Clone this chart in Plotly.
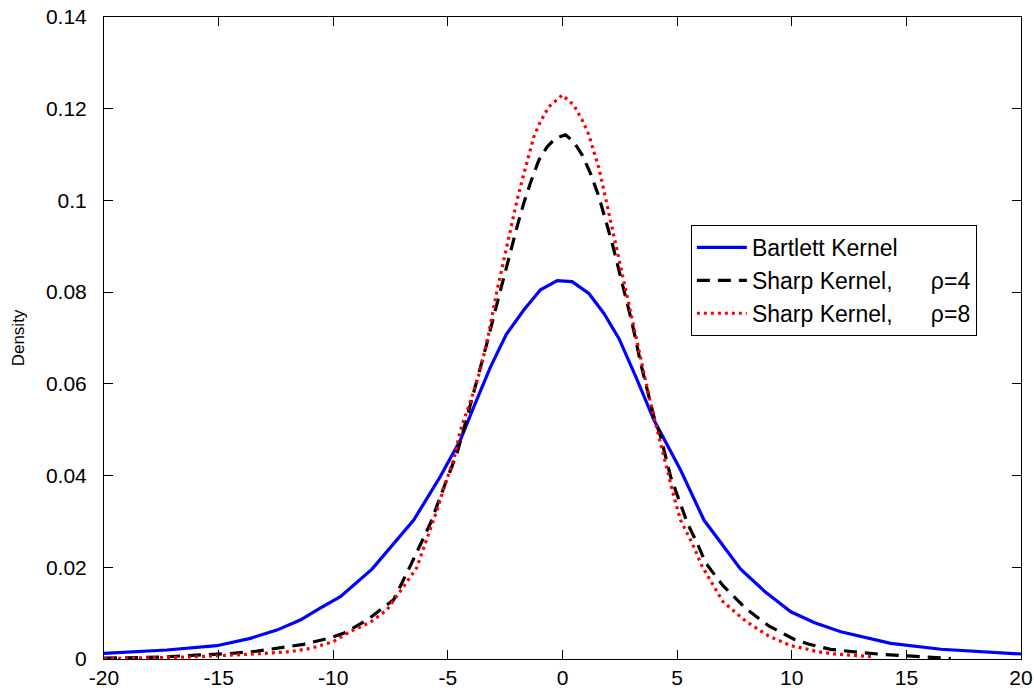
import plotly.graph_objects as go

# Bartlett kernel
bart_x = [-20, -17.26, -15.08, -13.62, -12.46, -11.44, -10.57, -9.69, -8.31, -6.49, -5.33, -4.45,
          -3.87, -3.14, -2.45, -1.69, -0.96, -0.23, 0.42, 1.15, 1.80, 2.46, 3.2, 3.99, 5.15, 6.17,
          7.77, 8.85, 9.96, 11.0, 12.14, 14.32, 16.51, 18.69, 20]
bart_y = [0.00124, 0.00196, 0.0029, 0.0045, 0.0063, 0.0085, 0.0111, 0.0136, 0.0196, 0.0303, 0.0398, 0.0478,
          0.0550, 0.0637, 0.0708, 0.0761, 0.0805, 0.0825, 0.0823, 0.0797, 0.0754, 0.0699, 0.0615, 0.0521, 0.0412, 0.0303,
          0.0196, 0.0146, 0.0103, 0.0079, 0.00595, 0.00342, 0.00212, 0.00137, 0.00109]

# Sharp kernel, rho = 4
sh4_x = [-20, -18.72, -17.55, -16.54, -15.52, -14.50, -13.33, -12.31, -11.30, -10.13, -9.55, -8.53,
         -7.37, -6.64, -5.76, -5.11, -4.60, -4.16, -3.72, -3.29, -2.93, -2.56, -2.27, -1.98, -1.69,
         -1.40, -1.03, -0.67, -0.31, 0.13, 0.49, 0.86, 1.22, 1.59, 1.88, 2.17, 2.46, 2.75, 3.04,
         3.41, 3.70, 3.99, 4.28, 4.72, 5.08, 5.45, 5.88, 6.25, 7.0, 8.0, 9.0, 10.1, 10.76, 11.7,
         12.87, 13.96, 15.05, 16.07, 16.94]
sh4_y = [0.0002, 0.0003, 0.0004, 0.0007, 0.0009, 0.0012, 0.0017, 0.0025, 0.0032, 0.0046, 0.0056, 0.0085,
         0.0129, 0.0203, 0.0296, 0.0383, 0.0449, 0.0528, 0.0608, 0.0690, 0.0761, 0.0834, 0.0885, 0.0943, 0.0994,
         0.1038, 0.1088, 0.1117, 0.1135, 0.1143, 0.1128, 0.1099, 0.1059, 0.1008, 0.0957, 0.0906, 0.0848, 0.0790, 0.0732,
         0.0645, 0.0587, 0.0528, 0.0485, 0.0397, 0.0347, 0.0296, 0.0252, 0.0209, 0.0160, 0.0110, 0.0072, 0.0043, 0.0032, 0.0021,
         0.0015, 0.0010, 0.0007, 0.0003, 0.0001]

# Sharp kernel, rho = 8
sh8_x = [-20, -18.72, -16.54, -15.08, -14.06, -13.04, -11.88, -11.0, -9.99, -9.26, -8.38, -7.66,
         -6.93, -6.35, -5.91, -5.47, -5.11, -4.75, -4.45, -4.16, -3.80, -3.51, -3.22, -2.85, -2.63,
         -2.41, -2.20, -1.98, -1.76, -1.54, -1.25, -0.96, -0.60, -0.01, 0.49, 0.86, 1.15, 1.37, 1.59,
         1.80, 2.02, 2.24, 2.46, 2.68, 2.90, 3.19, 3.41, 3.62, 3.84, 4.06, 4.35, 4.57, 4.86, 5.15,
         5.66, 6.10, 7.0, 8.0, 9.0, 9.96, 10.54, 11.12, 11.85, 12.72, 13.52]
sh8_y = [0.0001, 0.0002, 0.0004, 0.0007, 0.0009, 0.0012, 0.0016, 0.0023, 0.0038, 0.0060, 0.0080, 0.0107,
         0.0158, 0.0200, 0.0263, 0.0325, 0.0383, 0.0434, 0.0499, 0.0543, 0.0594, 0.0645, 0.0710, 0.0805, 0.0855,
         0.0906, 0.0957, 0.1001, 0.1044, 0.1088, 0.1139, 0.1172, 0.1204, 0.1230, 0.1208, 0.1175, 0.1143, 0.1106, 0.1070,
         0.1023, 0.0972, 0.0921, 0.0877, 0.0826, 0.0768, 0.0705, 0.0652, 0.0601, 0.0558, 0.0514, 0.0459, 0.0412, 0.0354, 0.0303,
         0.0252, 0.0201, 0.0125, 0.0082, 0.0050, 0.0029, 0.0023, 0.0016, 0.0011, 0.0007, 0.0005]

x_ticks = [-20, -15, -10, -5, 0, 5, 10, 15, 20]
x_tick_labels = ["-20", "-15", "-10", "-5", "0", "5", "10", "15", "20"]
y_ticks = [0, 0.02, 0.04, 0.06, 0.08, 0.1, 0.12, 0.14]
y_tick_labels = ["0", "0.02", "0.04", "0.06", "0.08", "0.1", "0.12", "0.14"]

names = ["Bartlett Kernel",
         "Sharp Kernel,\u00a0\u00a0\u00a0\u00a0\u00a0\u00a0\u03c1=4",
         "Sharp Kernel,\u00a0\u00a0\u00a0\u00a0\u00a0\u00a0\u03c1=8"]

FONT = "Liberation Sans, Arial, Helvetica, sans-serif"

fig = go.Figure()
fig.add_trace(go.Scatter(x=bart_x, y=bart_y, mode="lines", name=names[0],
                         line=dict(color="#0000ff", width=3.2)))
fig.add_trace(go.Scatter(x=sh4_x, y=sh4_y, mode="lines", name=names[1],
                         line=dict(color="#000000", width=3.2, dash="13px,8px")))
fig.add_trace(go.Scatter(x=sh8_x, y=sh8_y, mode="lines", name=names[2],
                         line=dict(color="#ff0000", width=3.2, dash="3px,4px")))

axis_common = dict(showline=True, linecolor="black", linewidth=1, mirror="ticks",
                   ticks="inside", ticklen=9, tickwidth=1, tickcolor="black",
                   showgrid=False, zeroline=False, automargin=False,
                   ticklabeloverflow="allow",
                   tickfont=dict(family=FONT, size=21, color="black"))

fig.update_xaxes(range=[-20, 20], tickvals=x_ticks, ticktext=x_tick_labels, **axis_common)
fig.update_yaxes(range=[0, 0.14], tickvals=y_ticks, ticktext=y_tick_labels,
                 ticklabelstandoff=12,
                 title=dict(text="Density", font=dict(family=FONT, size=17, color="black"), standoff=16),
                 **axis_common)

fig.update_layout(
    width=1034, height=692,
    margin=dict(l=104, r=13, t=17, b=33),
    paper_bgcolor="white", plot_bgcolor="white",
    font=dict(family=FONT, color="black"),
    showlegend=True,
    legend=dict(x=0.64, y=0.676, xanchor="left", yanchor="top",
                bgcolor="white", bordercolor="black", borderwidth=1,
                font=dict(family=FONT, size=23, color="black"),
                itemwidth=50, tracegroupgap=0),
)

# remove the default page margin so the figure fills the window exactly
fig.write_html("out.html", config={"displayModeBar": False},
               post_script="document.body.style.margin='0';")
